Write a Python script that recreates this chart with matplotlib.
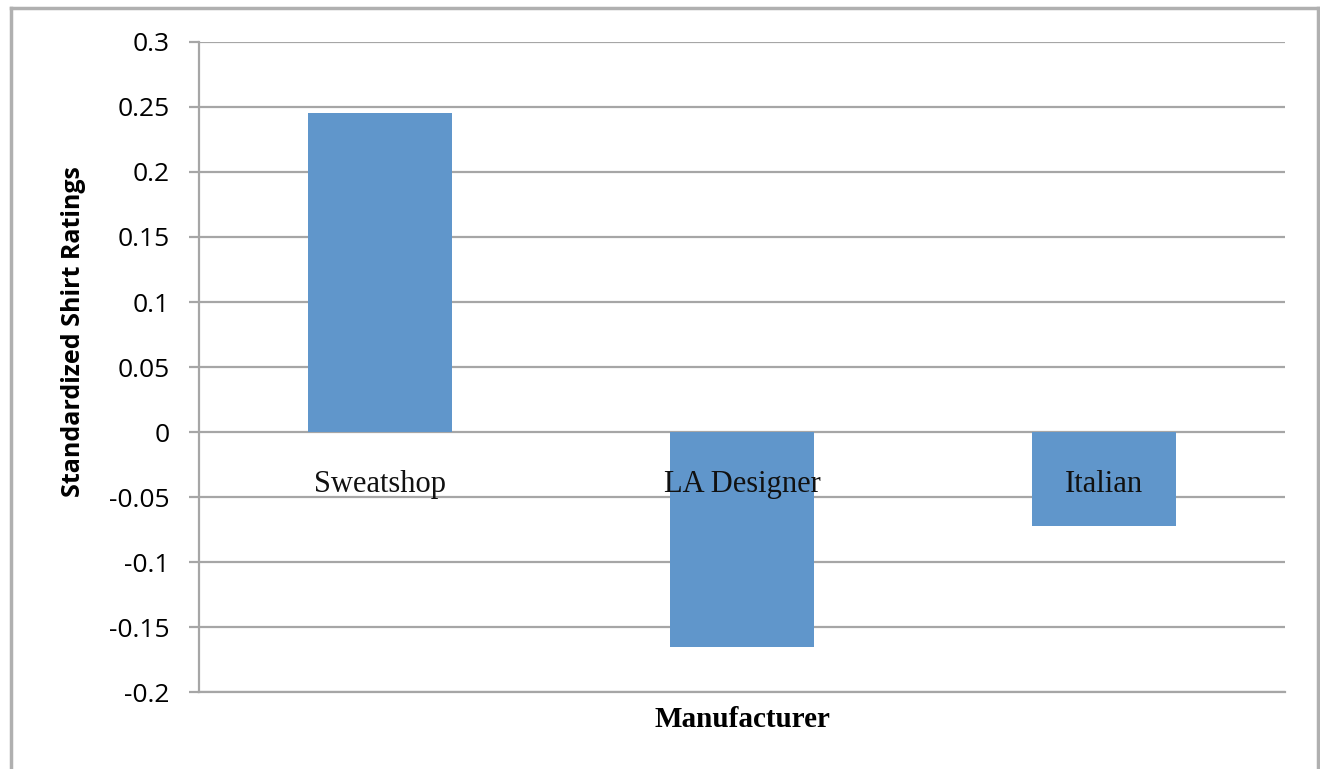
import matplotlib.pyplot as plt
import matplotlib.transforms as mtransforms

# Chart data
manufacturers = ["Sweatshop", "LA Designer", "Italian"]
ratings = [0.245, -0.165, -0.072]
y_ticks = [-0.2, -0.15, -0.1, -0.05, 0, 0.05, 0.1, 0.15, 0.2, 0.25, 0.3]
y_tick_labels = ["-0.2", "-0.15", "-0.1", "-0.05", "0", "0.05", "0.1", "0.15", "0.2", "0.25", "0.3"]

grid_color = "#a6a6a6"
bar_color = "#6096cb"

fig = plt.figure(figsize=(13.2, 7.69), dpi=100)
ax = fig.add_axes([0.1508, 0.1001, 0.8227, 0.8453])

# outer chart border (open at the bottom, like the cropped original)
fig.add_artist(plt.Line2D([11 / 1320, 11 / 1320], [0, 1 - 8 / 769], color="#b0b0b0", lw=2.5, transform=fig.transFigure))
fig.add_artist(plt.Line2D([11 / 1320, 1318 / 1320], [1 - 8 / 769, 1 - 8 / 769], color="#b0b0b0", lw=2.5, transform=fig.transFigure))
fig.add_artist(plt.Line2D([1318 / 1320, 1318 / 1320], [0, 1 - 8 / 769], color="#b0b0b0", lw=2.5, transform=fig.transFigure))

x = list(range(len(manufacturers)))
ax.bar(x, ratings, width=0.4, color=bar_color, zorder=3)

ax.set_xlim(-0.5, 2.5)
ax.set_ylim(-0.2, 0.3)
ax.set_yticks(y_ticks)
ax.set_yticklabels(y_tick_labels, fontfamily="Open Sans", fontsize=19)
ax.set_xticks([])

ax.yaxis.grid(True, color=grid_color, lw=1.6, zorder=1)
ax.set_axisbelow(True)
for side in ["top", "right"]:
    ax.spines[side].set_visible(False)
ax.spines["left"].set_color(grid_color)
ax.spines["left"].set_linewidth(1.6)
ax.spines["bottom"].set_color(grid_color)
ax.spines["bottom"].set_linewidth(1.6)
ax.tick_params(axis="y", length=7, width=1.6, color=grid_color, pad=14)

# category labels sit just under the zero line
offset = mtransforms.offset_copy(ax.transData, fig=fig, x=0, y=-37.5, units="points")
for i, name in enumerate(manufacturers):
    ax.text(i, 0, name, transform=offset, ha="center", va="center",
            fontfamily="Liberation Serif", fontsize=22, color="#111111", zorder=4)

ax.set_xlabel("Manufacturer", fontfamily="Liberation Serif", fontweight="bold", fontsize=21, labelpad=10)
ax.set_ylabel("Standardized Shirt Ratings", fontfamily="Open Sans", fontweight="bold", fontsize=18,
              va="center", ha="center")
ax.yaxis.set_label_coords(-0.116, 0.555)

fig.savefig("out.png", dpi=100, facecolor="white")
